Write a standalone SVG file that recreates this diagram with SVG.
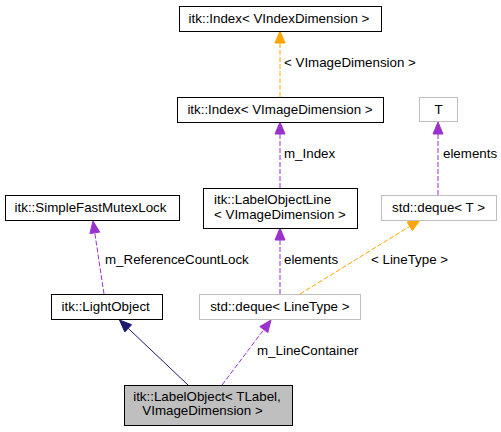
<svg xmlns="http://www.w3.org/2000/svg" width="501" height="432" viewBox="0 0 501 432">
<style>
text{font-family:"Liberation Sans",Arial,sans-serif;font-size:13.33px;fill:#000}
.n{fill:#fff;stroke:#000;stroke-width:1}
.g{fill:#fff;stroke:#bfbfbf;stroke-width:1}
.m{text-anchor:middle}
.pe{fill:none;stroke:#9a32cd;stroke-width:1;stroke-dasharray:5,2}
.oe{fill:none;stroke:#ffa500;stroke-width:1;stroke-dasharray:5,2}
.ne{fill:none;stroke:#191970;stroke-width:1}
.pa{fill:#9a32cd;stroke:#9a32cd}
.oa{fill:#ffa500;stroke:#ffa500}
.na{fill:#191970;stroke:#191970}
</style>
<rect width="501" height="432" fill="#fff"/>
<g id="edges">
<path class="oe" d="M280,97L280,43"/><polygon class="oa" points="280,31 275,43 285,43"/>
<text x="284" y="67">&lt; VImageDimension &gt;</text>
<path class="pe" d="M280,188L280,134"/><polygon class="pa" points="280,122 275,134 285,134"/>
<text x="284" y="158">m_Index</text>
<path class="pe" d="M438,195L438,134"/><polygon class="pa" points="438,122 433,134 443,134"/>
<text x="443" y="158">elements</text>
<path class="pe" d="M280,294L280,240"/><polygon class="pa" points="280,228 275,240 285,240"/>
<text x="284" y="264">elements</text>
<path class="oe" d="M300,294L409.8,226.3"/><polygon class="oa" points="420,220 412.4,230.6 407.2,222"/>
<text x="371" y="264">&lt; LineType &gt;</text>
<path class="pe" d="M104,294L94.8,232.9"/><polygon class="pa" points="93,221 99.7,232.1 89.9,233.6"/>
<text x="105" y="264">m_ReferenceCountLock</text>
<path class="ne" d="M188,385L128.2,328.3"/><polygon class="na" points="119.5,320 131.6,324.7 124.8,331.9"/>
<path class="pe" d="M222,385L263.8,329.6"/><polygon class="pa" points="271,320 267.8,332.6 259.8,326.6"/>
<text x="257" y="355">m_LineContainer</text>
</g>
<g id="idx1"><rect class="n" x="179.5" y="6.5" width="202" height="25"/><text class="m" x="279" y="22.5">itk::Index&lt; VIndexDimension &gt;</text></g>
<g id="idx2"><rect class="n" x="177.5" y="97.5" width="206" height="25"/><text class="m" x="280" y="113.5">itk::Index&lt; VImageDimension &gt;</text></g>
<g id="T"><rect class="g" x="419.5" y="97.5" width="38" height="24"/><text class="m" x="438.5" y="113.5">T</text></g>
<g id="mutex"><rect class="n" x="5.5" y="195.5" width="174" height="25"/><text class="m" x="90.5" y="212">itk::SimpleFastMutexLock</text></g>
<g id="lol"><rect class="n" x="203.5" y="188.5" width="154" height="40"/><text x="214" y="204">itk::LabelObjectLine</text><text x="214" y="218.5">&lt; VImageDimension &gt;</text></g>
<g id="dequeT"><rect class="g" x="381.5" y="195.5" width="115" height="25"/><text class="m" x="438.5" y="212">std::deque&lt; T &gt;</text></g>
<g id="light"><rect class="n" x="51.5" y="294.5" width="111" height="25"/><text class="m" x="105.7" y="310.5">itk::LightObject</text></g>
<g id="dequeLT"><rect class="g" x="199.5" y="294.5" width="161" height="25"/><text class="m" x="279.8" y="310.5">std::deque&lt; LineType &gt;</text></g>
<g id="labelobj"><rect x="124.5" y="385.5" width="168" height="40" fill="#bfbfbf" stroke="#000"/><text class="m" x="207" y="401">itk::LabelObject&lt; TLabel,</text><text class="m" x="202.5" y="415">VImageDimension &gt;</text></g>
</svg>
